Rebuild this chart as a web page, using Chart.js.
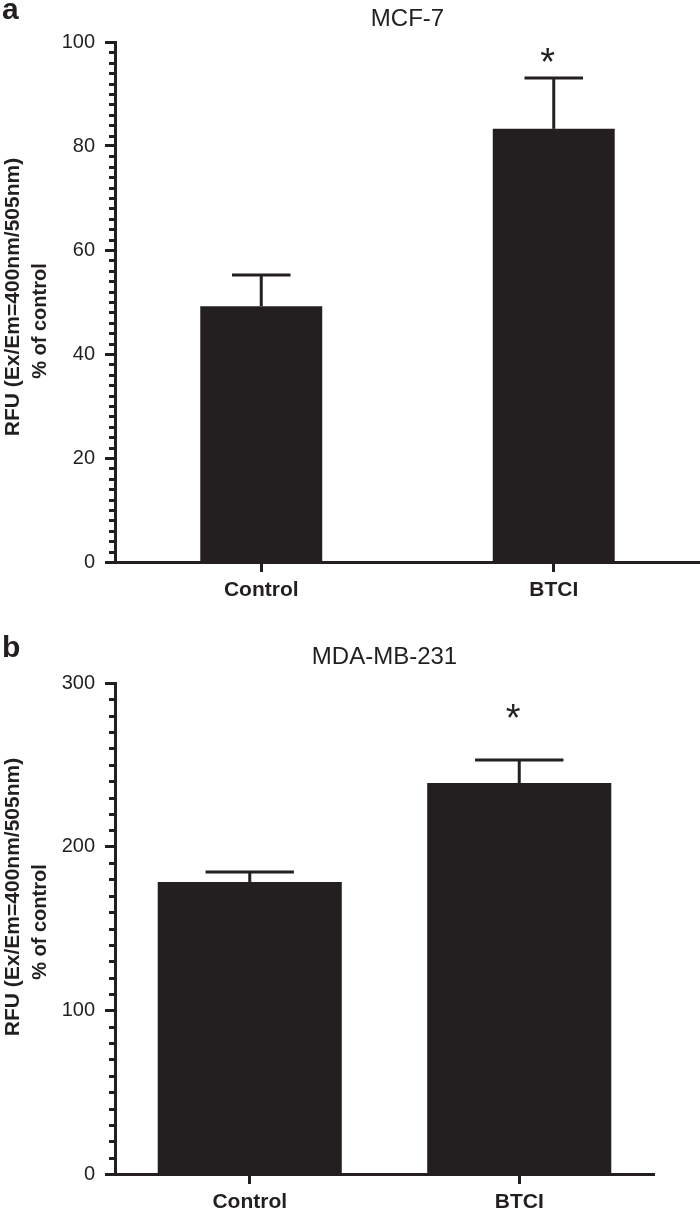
<!DOCTYPE html>
<html><head><meta charset="utf-8">
<script src="https://cdn.jsdelivr.net/npm/chart.js@4/dist/chart.umd.min.js"></script>
<style>
html,body{margin:0;padding:0;background:#fff;}
.panel{position:relative;width:700px;height:609px;}
canvas{display:block;}
</style></head><body>
<div class="panel"><canvas id="ca" width="700" height="609"></canvas></div>
<div class="panel"><canvas id="cb" width="700" height="609"></canvas></div>
<script>
// ---- data ----
const categories = ['Control', 'BTCI'];

const mcf7Title = 'MCF-7';
const mcf7Values = [49.2, 83.3];
const mcf7Errors = [6.0, 9.8];
const mcf7Stars = [null, 97.9];
const mcf7YTicks = [0, 20, 40, 60, 80, 100];
const mcf7MinorStep = 2;

const mdaTitle = 'MDA-MB-231';
const mdaValues = [178.4, 238.9];
const mdaErrors = [6.1, 14.1];
const mdaStars = [null, 284];
const mdaYTicks = [0, 100, 200, 300];
const mdaMinorStep = 10;

const yLabelLines = ['RFU (Ex/Em=400nm/505nm)', '% of control'];

// ---- styles ----
const INK = '#231f20';
const FONT = '"Liberation Sans", Arial, Helvetica, sans-serif';

function decorPlugin(p) {
  return {
    id: 'decor',
    afterDatasetsDraw(chart) {
      const ctx = chart.ctx, ys = chart.scales.y, ca = chart.chartArea;
      ctx.save();
      ctx.strokeStyle = INK; ctx.fillStyle = INK; ctx.lineWidth = 3; ctx.lineCap = 'butt';
      // minor ticks
      const major = p.ticks[1] - p.ticks[0];
      for (let v = p.ticks[0]; v <= p.ticks[p.ticks.length - 1] + 1e-9; v += p.minor) {
        const r = v / major;
        if (Math.abs(r - Math.round(r)) < 1e-6) continue;
        const y = Math.round(ys.getPixelForValue(v)) + 0.5;
        ctx.beginPath(); ctx.moveTo(ca.left - 6, y); ctx.lineTo(ca.left, y); ctx.stroke();
      }
      // error bars and stars
      const meta = chart.getDatasetMeta(0);
      meta.data.forEach((bar, i) => {
        const v = p.values[i], e = p.errors[i];
        const x = bar.x, yb = ys.getPixelForValue(v), yt = ys.getPixelForValue(v + e);
        const half = bar.width * 0.24;
        ctx.lineWidth = 3;
        ctx.beginPath(); ctx.moveTo(x, yb); ctx.lineTo(x, yt); ctx.stroke();
        ctx.beginPath(); ctx.moveTo(x - half, yt); ctx.lineTo(x + half, yt); ctx.stroke();
        if (p.stars[i] != null) {
          const fs = 38;
          ctx.font = fs + 'px ' + FONT;
          ctx.textAlign = 'center'; ctx.textBaseline = 'alphabetic';
          ctx.fillText('*', x - 6, ys.getPixelForValue(p.stars[i]) + 0.575 * fs);
        }
      });
      // title
      ctx.font = '24px ' + FONT;
      ctx.textAlign = 'center'; ctx.textBaseline = 'alphabetic';
      ctx.fillText(p.title, (ca.left + ca.right) / 2, p.titleY);
      // panel letter
      ctx.font = 'bold 30px ' + FONT;
      ctx.textAlign = 'left';
      ctx.fillText(p.letter, 2, p.letterY);
      // y label
      ctx.textAlign = 'center';
      p.ylab.forEach((pos, k) => {
        ctx.save();
        ctx.font = 'bold ' + (k === 0 ? 21 : 20) + 'px ' + FONT;
        ctx.translate(pos[0], pos[1]);
        ctx.rotate(-Math.PI / 2);
        ctx.fillText(yLabelLines[k], 0, 0);
        ctx.restore();
      });
      ctx.restore();
    }
  };
}

function makeChart(id, p) {
  return new Chart(document.getElementById(id), {
    type: 'bar',
    data: {
      labels: categories,
      datasets: [{
        data: p.values,
        backgroundColor: INK,
        borderWidth: 0,
        barPercentage: 1,
        categoryPercentage: p.catPct
      }]
    },
    options: {
      responsive: false, animation: false, devicePixelRatio: 1,
      layout: { padding: { top: p.top, right: p.right, bottom: 0, left: 0 } },
      plugins: { legend: { display: false }, tooltip: { enabled: false }, title: { display: false } },
      scales: {
        x: {
          type: 'category', offset: true,
          grid: { display: true, drawOnChartArea: false, offset: false, tickLength: 10, tickWidth: 3, tickColor: INK },
          border: { display: true, width: 3, color: INK },
          ticks: { color: INK, font: { family: FONT, size: 21, weight: 'bold' }, padding: 6, maxRotation: 0 },
          afterFit(s) { s.height = p.xh; }
        },
        y: {
          min: p.ticks[0], max: p.ticks[p.ticks.length - 1],
          grid: { display: true, drawOnChartArea: false, tickLength: 10, tickWidth: 3, tickColor: INK },
          border: { display: true, width: 3, color: INK },
          ticks: { stepSize: p.ticks[1] - p.ticks[0], color: INK, font: { family: FONT, size: 20 }, padding: 10 },
          afterFit(s) { s.width = 115; }
        }
      }
    },
    plugins: [decorPlugin(p)]
  });
}

makeChart('ca', {
  values: mcf7Values, errors: mcf7Errors, stars: mcf7Stars, ticks: mcf7YTicks, minor: mcf7MinorStep,
  title: mcf7Title, titleY: 26, letter: 'a', letterY: 19,
  ylab: [[19, 297], [46, 321]],
  catPct: 0.417, top: 42, right: 0, xh: 47
});
makeChart('cb', {
  values: mdaValues, errors: mdaErrors, stars: mdaStars, ticks: mdaYTicks, minor: mdaMinorStep,
  title: mdaTitle, titleY: 55, letter: 'b', letterY: 48,
  ylab: [[19, 288], [46, 313]],
  catPct: 0.683, top: 74, right: 46, xh: 44
});
</script>
</body></html>
